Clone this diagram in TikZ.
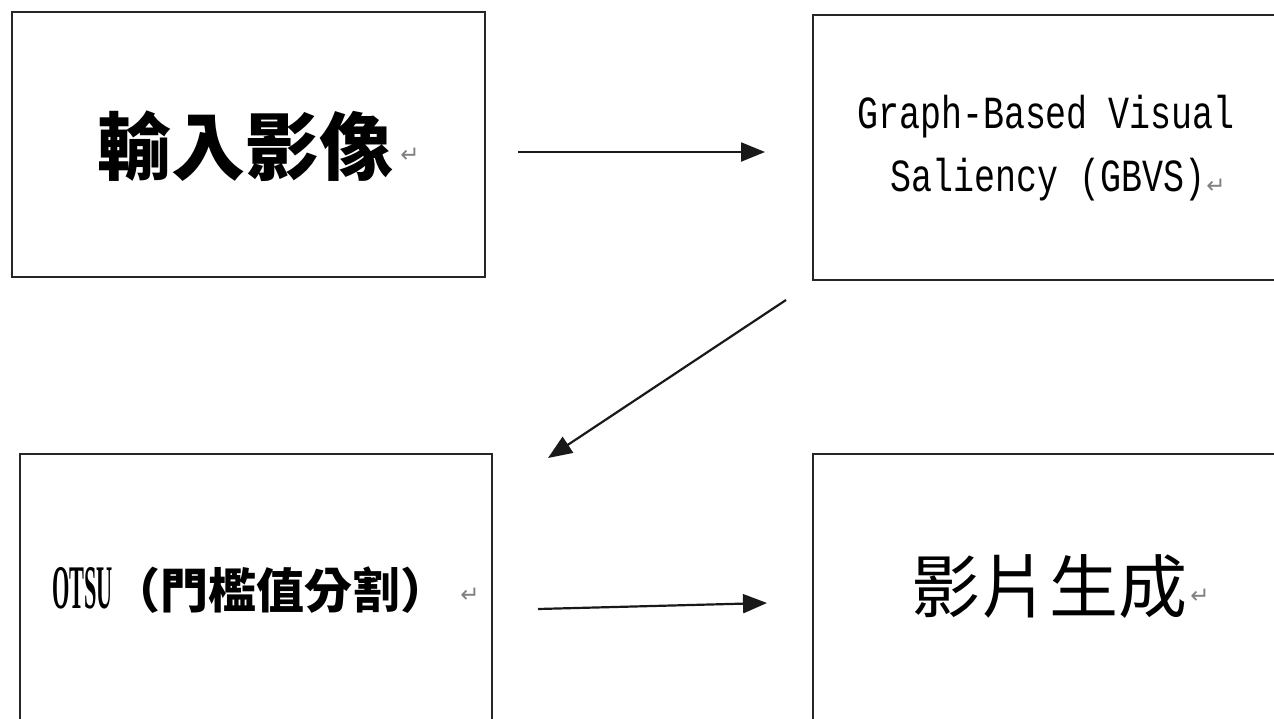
\documentclass[tikz,border=0pt]{standalone}
\usepackage{fontspec}
\usepackage{graphicx}
\usetikzlibrary{arrows.meta}
\newfontfamily\cjk{Noto Sans CJK TC}
\newfontfamily\monof{Liberation Mono}
\newfontfamily\serf{Liberation Serif}
\newfontfamily\symf{DejaVu Sans}
\tikzset{
  box/.style={draw=black!85, line width=2pt, rectangle, inner sep=0pt},
  txt/.style={inner sep=0pt, text=black},
  ret/.style={inner sep=0pt, text=black!50, font=\symf\fontsize{23}{23}\selectfont},
  flow/.style={draw=black!90, line width=2.2pt, -{Triangle[length=24pt,width=19pt]}}
}
\begin{document}
\begin{tikzpicture}[x=1pt,y=-1pt]
\clip (0,0) rectangle (1274,718);
\fill[white] (0,0) rectangle (1274,718);
% boxes
\node[box, minimum width=473pt, minimum height=265pt] (b1) at (248.5,144.5) {};
\node[box, minimum width=477pt, minimum height=265pt] (b2) at (1051.5,147.5) {};
\node[box, minimum width=472pt, minimum height=290pt] (b3) at (256,599) {};
\node[box, minimum width=477pt, minimum height=290pt] (b4) at (1051.5,599) {};
% texts
\node[txt, font=\cjk\bfseries\fontsize{74}{74}\selectfont] (t1) at (245,146) {輸入影像};
\node[ret] (r1) at (410,155) {↵};
\node[txt, font=\monof\fontsize{46}{46}\selectfont] (t2a) at (1046,117) {\scalebox{0.76}[1]{Graph-Based Visual}};
\node[txt, font=\monof\fontsize{46}{46}\selectfont] (t2b) at (1048,180) {\scalebox{0.76}[1]{Saliency (GBVS)}};
\node[ret] (r2) at (1216,186) {↵};
\node[txt, anchor=west] (t3) at (52,590) {\serf\bfseries\fontsize{62}{62}\selectfont\scalebox{0.36}[1]{OTSU}\cjk\bfseries\fontsize{48}{48}\selectfont（門檻值分割）};
\node[ret] (r3) at (470,595) {↵};
\node[txt, font=\cjk\fontsize{69}{69}\selectfont] (t4) at (1049,587) {影片生成};
\node[ret] (r4) at (1200,596) {↵};
% connector end points
\coordinate (a1s) at (518,152);
\coordinate (a1e) at (765,152);
\coordinate (a2s) at (786,300);
\coordinate (a2e) at (548,458);
\coordinate (a3s) at (538,609);
\coordinate (a3e) at (767,603);
\draw[flow] (a1s) -- (a1e);
\draw[flow] (a2s) -- (a2e);
\draw[flow] (a3s) -- (a3e);
\end{tikzpicture}
\end{document}
